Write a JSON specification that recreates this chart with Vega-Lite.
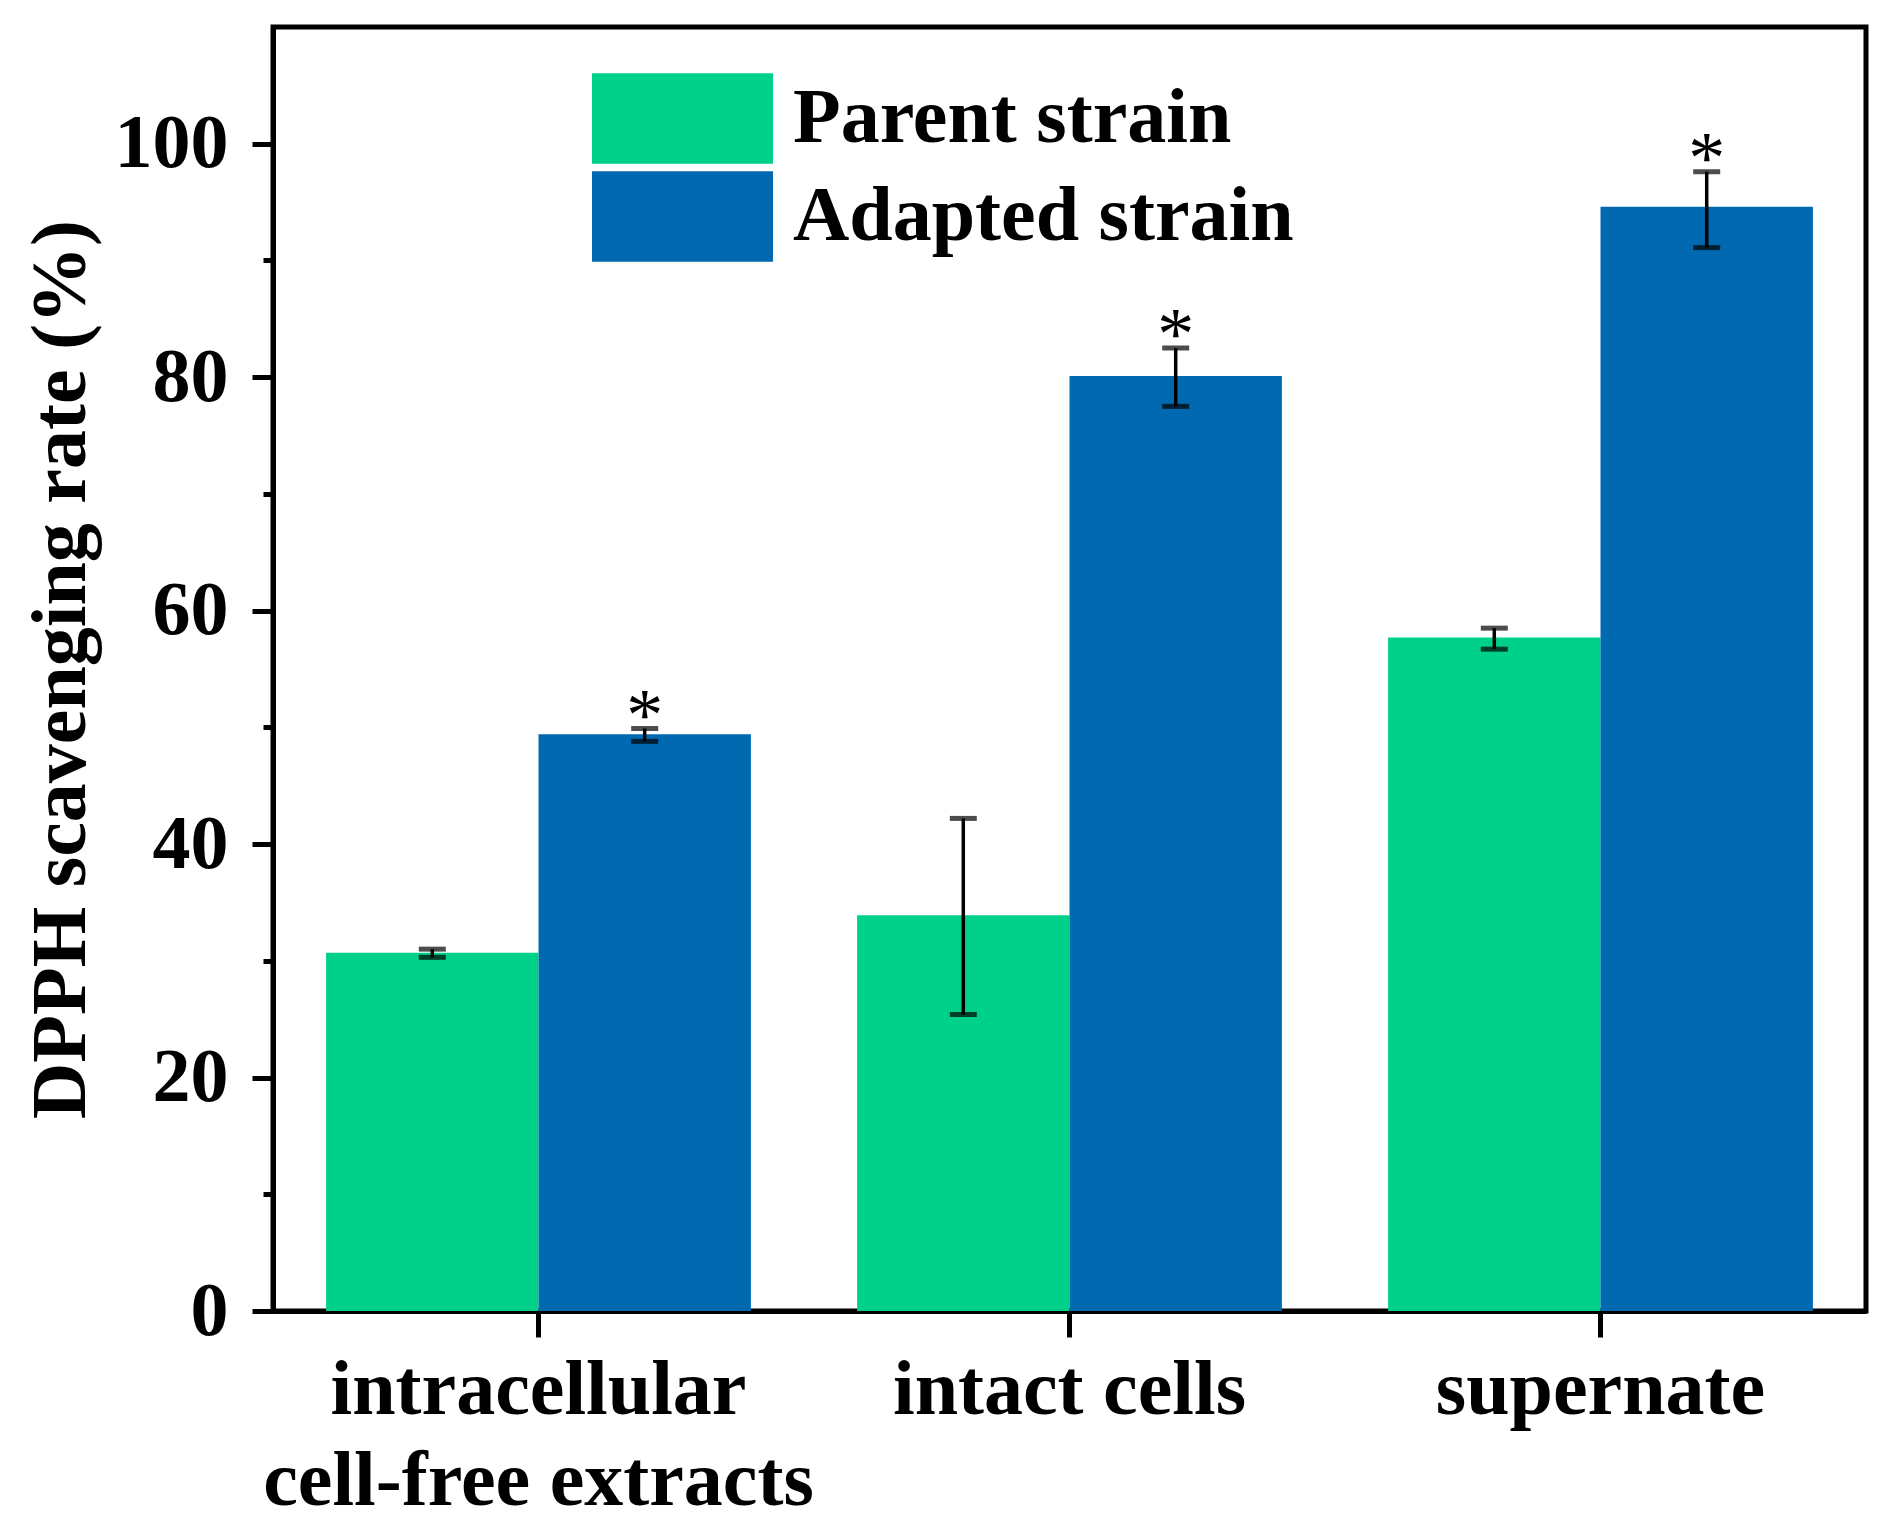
{
  "$schema": "https://vega.github.io/schema/vega-lite/v6.json",
  "width": 1593,
  "height": 1284,
  "autosize": {"type": "none"},
  "padding": {"left": 273, "top": 27, "right": 19, "bottom": 222},
  "background": "white",
  "config": {
    "font": "Liberation Serif",
    "view": {"stroke": "black", "strokeWidth": 5},
    "axis": {
      "labelFont": "Liberation Serif",
      "labelFontWeight": "bold",
      "labelColor": "black",
      "titleFont": "Liberation Serif",
      "titleFontWeight": "bold",
      "titleColor": "black",
      "domainColor": "black",
      "domainWidth": 5,
      "tickColor": "black",
      "grid": false
    }
  },
  "data": {
    "values": [
      {"sample": "intracellular cell-free extracts", "strain": "Parent strain", "value": 30.7, "lo": 30.3, "hi": 31.0, "sig": ""},
      {"sample": "intracellular cell-free extracts", "strain": "Adapted strain", "value": 49.4, "lo": 48.8, "hi": 49.9, "sig": "*"},
      {"sample": "intact cells", "strain": "Parent strain", "value": 33.9, "lo": 25.4, "hi": 42.2, "sig": ""},
      {"sample": "intact cells", "strain": "Adapted strain", "value": 80.1, "lo": 77.5, "hi": 82.5, "sig": "*"},
      {"sample": "supernate", "strain": "Parent strain", "value": 57.7, "lo": 56.7, "hi": 58.5, "sig": ""},
      {"sample": "supernate", "strain": "Adapted strain", "value": 94.6, "lo": 91.1, "hi": 97.6, "sig": "*"}
    ]
  },
  "encoding": {
    "x": {
      "field": "sample",
      "type": "nominal",
      "sort": ["intracellular cell-free extracts", "intact cells", "supernate"],
      "scale": {"paddingInner": 0.2, "paddingOuter": 0.1},
      "axis": {
        "title": null,
        "labelAngle": 0,
        "labelFontSize": 78,
        "labelLineHeight": 91,
        "labelPadding": 14,
        "labelBaseline": "top",
        "labelLimit": 0,
        "tickSize": 26,
        "tickWidth": 5,
        "labelExpr": "datum.value == 'intracellular cell-free extracts' ? ['intracellular', 'cell-free extracts'] : datum.value"
      }
    },
    "xOffset": {
      "field": "strain",
      "type": "nominal",
      "sort": ["Parent strain", "Adapted strain"],
      "scale": {"paddingInner": 0, "paddingOuter": 0}
    }
  },
  "layer": [
    {
      "mark": {"type": "bar"},
      "encoding": {
        "y": {
          "field": "value",
          "type": "quantitative",
          "scale": {"domain": [0, 110], "nice": false, "zero": true},
          "axis": {
            "title": "DPPH scavenging rate (%)",
            "titleFontSize": 78,
            "titlePadding": 14,
            "values": [0, 10, 20, 30, 40, 50, 60, 70, 80, 90, 100],
            "labelExpr": "datum.value % 20 == 0 ? datum.label : ''",
            "labelFontSize": 76,
            "labelPadding": 24,
            "tickSize": {"condition": {"test": "datum.value % 20 == 0", "value": 21}, "value": 10},
            "tickWidth": 5
          }
        },
        "color": {
          "field": "strain",
          "type": "nominal",
          "sort": ["Parent strain", "Adapted strain"],
          "scale": {"domain": ["Parent strain", "Adapted strain"], "range": ["#00D18A", "#0069B0"]},
          "legend": {
            "title": null,
            "orient": "none",
            "legendX": 364,
            "legendY": 46,
            "padding": 0,
            "symbolType": "M-2,-1H2V1H-2Z",
            "symbolSize": 8190,
            "symbolStrokeWidth": 0,
            "symbolOpacity": 1,
            "labelFont": "Liberation Serif",
            "labelFontWeight": "bold",
            "labelFontSize": 78,
            "labelColor": "black",
            "labelOffset": 65,
            "labelLimit": 0,
            "rowPadding": 7
          }
        }
      }
    },
    {
      "mark": {"type": "rule", "color": "black", "strokeWidth": 3.5},
      "encoding": {
        "y": {"field": "lo", "type": "quantitative"},
        "y2": {"field": "hi"}
      }
    },
    {
      "mark": {"type": "tick", "color": "black", "thickness": 5, "size": 27},
      "encoding": {
        "y": {"field": "lo", "type": "quantitative"}
      }
    },
    {
      "mark": {"type": "tick", "color": "black", "thickness": 5, "size": 27},
      "encoding": {
        "y": {"field": "hi", "type": "quantitative"}
      }
    },
    {
      "mark": {"type": "text", "font": "Liberation Serif", "fontSize": 74, "color": "black", "baseline": "middle", "dy": -11},
      "encoding": {
        "y": {"field": "hi", "type": "quantitative"},
        "text": {"field": "sig"}
      }
    }
  ]
}
